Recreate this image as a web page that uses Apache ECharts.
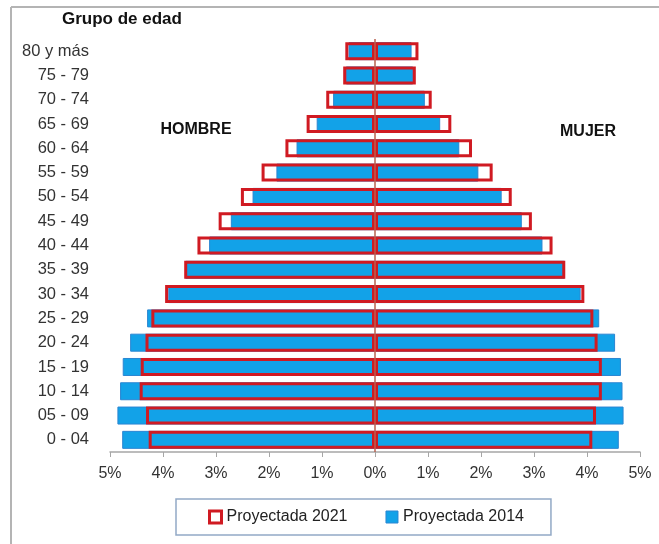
<!DOCTYPE html>
<html>
<head>
<meta charset="utf-8">
<script src="https://cdn.jsdelivr.net/npm/echarts@6/dist/echarts.min.js"></script>
<style>
    html, body { margin: 0; padding: 0; background: #fff; }
    #pyramid { width: 659px; height: 544px; }
</style>
</head>
<body>
<div id="pyramid"></div>
<script>
// grupos de edad, de abajo hacia arriba
var ageGroups = ['0 - 04', '05 - 09', '10 - 14', '15 - 19', '20 - 24', '25 - 29', '30 - 34', '35 - 39',
    '40 - 44', '45 - 49', '50 - 54', '55 - 59', '60 - 64', '65 - 69', '70 - 74', '75 - 79', '80 y más'];
var hombre2014 = [4.77, 4.86, 4.81, 4.76, 4.62, 4.30, 3.90, 3.58, 3.13, 2.72, 2.31, 1.86, 1.48, 1.10, 0.79, 0.55, 0.50];
var mujer2014 = [4.60, 4.69, 4.67, 4.64, 4.53, 4.23, 3.88, 3.58, 3.16, 2.77, 2.39, 1.95, 1.59, 1.23, 0.94, 0.72, 0.69];
var hombre2021 = [4.27, 4.32, 4.44, 4.42, 4.33, 4.22, 3.96, 3.60, 3.35, 2.95, 2.53, 2.14, 1.69, 1.29, 0.92, 0.60, 0.56];
var mujer2021 = [4.10, 4.17, 4.28, 4.28, 4.20, 4.12, 3.95, 3.59, 3.35, 2.96, 2.58, 2.22, 1.83, 1.44, 1.07, 0.77, 0.82];
var xTicks = [-5, 5, 1];

var FONT = "'Liberation Sans', Arial, sans-serif";
var BLUE = '#12a2e8';
var RED = '#d01a22';

function negate(arr) {
    return arr.map(function (v) { return -v; });
}

function loadPyramid() {
    var myChart = echarts.init(document.getElementById('pyramid'));
    var blueStyle = { color: BLUE, borderColor: '#2b86d2', borderWidth: 1 };
    var redStyle = { color: 'rgba(255,255,255,0)', borderColor: RED, borderWidth: 3 };
    var option = {
        animation: false,
        textStyle: { fontFamily: FONT },
        title: {
            text: 'Grupo de edad',
            left: 62,
            top: 11,
            padding: 0,
            textStyle: { fontFamily: FONT, fontSize: 17, fontWeight: 'bold', color: '#111' }
        },
        graphic: [
            { type: 'line', shape: { x1: 11, y1: 7, x2: 659, y2: 7 }, style: { stroke: '#b4b4b4', lineWidth: 2 } },
            { type: 'line', shape: { x1: 11, y1: 7, x2: 11, y2: 544 }, style: { stroke: '#b4b4b4', lineWidth: 2 } },
            { type: 'text', x: 196, y: 130, style: { text: 'HOMBRE', align: 'center', verticalAlign: 'middle',
                    font: 'bold 16px ' + FONT, fill: '#111' } },
            { type: 'text', x: 588, y: 132, style: { text: 'MUJER', align: 'center', verticalAlign: 'middle',
                    font: 'bold 16px ' + FONT, fill: '#111' } }
        ],
        legend: {
            data: [
                { name: 'Proyectada 2021', itemStyle: { color: '#fff', borderColor: RED, borderWidth: 3 } },
                { name: 'Proyectada 2014', itemStyle: { color: BLUE, borderColor: '#2b86d2', borderWidth: 1 } }
            ],
            left: 176,
            top: 499,
            padding: [10, 27, 10, 32],
            itemGap: 38,
            itemWidth: 12,
            itemHeight: 12,
            icon: 'rect',
            borderColor: '#92a9c6',
            borderWidth: 1.5,
            textStyle: { fontFamily: FONT, fontSize: 16, color: '#222' }
        },
        grid: { left: 110, right: 19, top: 39, bottom: 92 },
        xAxis: {
            type: 'value',
            min: xTicks[0],
            max: xTicks[1],
            interval: xTicks[2],
            axisLine: { show: true, lineStyle: { color: '#a6a6a6', width: 1.5 } },
            axisTick: { show: true, length: 5, lineStyle: { color: '#a6a6a6' } },
            splitLine: { show: false },
            axisLabel: {
                margin: 14,
                fontSize: 16,
                color: '#333',
                fontFamily: FONT,
                formatter: function (v) { return Math.abs(v) + '%'; }
            }
        },
        yAxis: {
            type: 'category',
            data: ageGroups,
            axisLine: { show: false },
            axisTick: { show: false },
            axisLabel: { margin: 21, fontSize: 16.5, color: '#333', fontFamily: FONT }
        },
        series: [{
            name: 'Proyectada 2014',
            type: 'bar',
            stack: 'p2014',
            barWidth: 18,
            barGap: '-100%',
            itemStyle: blueStyle,
            data: negate(hombre2014)
        }, {
            name: 'Proyectada 2014',
            type: 'bar',
            stack: 'p2014',
            barWidth: 18,
            barGap: '-100%',
            itemStyle: blueStyle,
            data: mujer2014
        }, {
            name: 'Proyectada 2021',
            type: 'bar',
            stack: 'p2021',
            barWidth: 18,
            barGap: '-100%',
            itemStyle: redStyle,
            data: negate(hombre2021)
        }, {
            name: 'Proyectada 2021',
            type: 'bar',
            stack: 'p2021',
            barWidth: 18,
            barGap: '-100%',
            itemStyle: redStyle,
            data: mujer2021,
            markLine: {
                silent: true,
                symbol: 'none',
                label: { show: false },
                lineStyle: { color: '#b8604f', type: 'solid', width: 1.5 },
                data: [{ xAxis: 0 }]
            }
        }]
    };
    myChart.setOption(option, true);
}

loadPyramid();
</script>
</body>
</html>
